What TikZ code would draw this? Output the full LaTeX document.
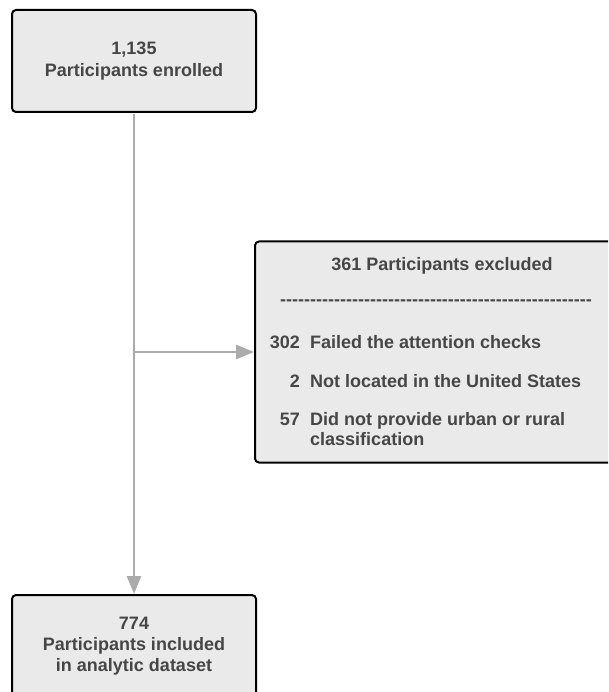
\documentclass[tikz,border=0pt]{standalone}
\usepackage{fontspec}
\setmainfont{Liberation Sans}
\usetikzlibrary{arrows.meta,positioning}
\definecolor{boxfill}{HTML}{EAEAEA}
\definecolor{txtgray}{HTML}{464646}
\definecolor{linegray}{HTML}{ABABAB}
\tikzset{
  flowbox/.style={draw=black,line width=2pt,fill=boxfill,rounded corners=4pt,
    minimum width=244pt,minimum height=102pt,inner sep=0pt,
    text=txtgray,align=center},
  boxtext/.style={text=txtgray,inner sep=0pt},
  flowarrow/.style={draw=linegray,line width=2.8pt,
    -{Triangle[length=18pt,width=14pt]}}
}
\begin{document}
\begin{tikzpicture}[x=1pt,y=-1pt,font=\bfseries\fontsize{18}{22}\selectfont]
\clip (0,0) rectangle (608,692);
\fill[white] (0,0) rectangle (608,692);
% boxes
\node[flowbox] (enrolled) at (134,61) {1,135\\Participants enrolled};
\node[flowbox,font=\bfseries\fontsize{18}{21}\selectfont] (included) at (134,646)
  {774\\Participants included\\in analytic dataset};
\node[flowbox,minimum width=374pt,minimum height=221pt] (excluded) at (442,352) {};
% exclusion list
\node[boxtext,anchor=base] (extitle) at (442,270) {361 Participants excluded};
\node[boxtext] (exrule) at (436,303) {\foreach\i in {1,...,52}{-}};
\node[boxtext,anchor=base east] (nattn) at (300,348) {302};
\node[boxtext,anchor=base west] (attn) at (310,348) {Failed the attention checks};
\node[boxtext,anchor=base east] (nusa) at (300,387) {2};
\node[boxtext,anchor=base west] (usa) at (310,387) {Not located in the United States};
\node[boxtext,anchor=base east] (nurban) at (300,425) {57};
\node[boxtext,anchor=base west] (urban) at (310,425) {Did not provide urban or rural};
\node[boxtext,anchor=base west] (classif) at (310,445) {classification};
% connectors
\draw[flowarrow,shorten <=1pt] (enrolled.south) -- (included.north);
\draw[flowarrow] (enrolled.south |- excluded.west) -- (excluded.west);
\end{tikzpicture}
\end{document}
